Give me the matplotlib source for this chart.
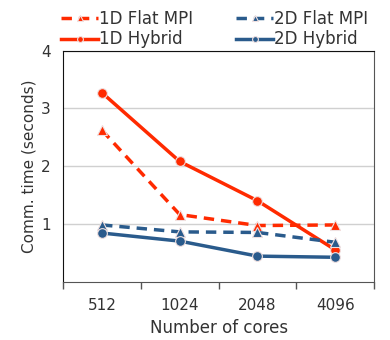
import matplotlib
matplotlib.use("Agg")
import matplotlib.pyplot as plt
import numpy as np

# data
cores = ["512", "1024", "2048", "4096"]
flat_1d = [2.62, 1.16, 0.97, 0.98]
hybrid_1d = [3.27, 2.08, 1.40, 0.55]
flat_2d = [0.98, 0.86, 0.85, 0.68]
hybrid_2d = [0.84, 0.70, 0.44, 0.42]

red = "#ff2a00"
blue = "#2a5b8c"
text_col = "#333333"

plt.rcParams['font.family'] = ['DejaVu Sans']
plt.rcParams['text.color'] = text_col
plt.rcParams['axes.labelcolor'] = text_col
plt.rcParams['xtick.labelcolor'] = text_col
plt.rcParams['ytick.labelcolor'] = text_col

fig = plt.figure(figsize=(3.9, 3.4), dpi=100)
ax = fig.add_axes([0.162, 0.172, 0.797, 0.679])

x = np.arange(len(cores))
style = dict(lw=2.5, ms=7, markeredgecolor="#f0e0e0", markeredgewidth=0.8)
l1, = ax.plot(x, flat_1d, color=red, ls=(0, (3, 2)), marker="^", label="1D Flat MPI", **style)
l2, = ax.plot(x, hybrid_1d, color=red, ls="-", marker="o", label="1D Hybrid", **style)
l3, = ax.plot(x, flat_2d, color=blue, ls=(0, (3, 2)), marker="^", label="2D Flat MPI", **style)
l4, = ax.plot(x, hybrid_2d, color=blue, ls="-", marker="o", label="2D Hybrid", **style)

ax.set_xlim(-0.5, 3.5)
ax.set_ylim(0, 4)
ax.set_yticks([1, 2, 3, 4])
ax.yaxis.grid(True, color="#d0d0d0", lw=1)
ax.set_axisbelow(True)
ax.tick_params(axis="y", length=0, labelsize=11, pad=9)

# category labels at centers, tick marks at the boundaries
ax.set_xticks(x)
ax.set_xticklabels(cores)
ax.set_xticks(np.arange(-0.5, 4.0, 1.0), minor=True)
ax.tick_params(axis="x", which="major", length=0, labelsize=11, pad=12)
ax.tick_params(axis="x", which="minor", length=5, width=1, color="#555555")

for side in ["left", "top"]:
    ax.spines[side].set_color("#111111")
for side in ["right", "bottom"]:
    ax.spines[side].set_color("#555555")

ax.set_xlabel("Number of cores", fontsize=12)
ax.set_ylabel("Comm. time (seconds)", fontsize=11, labelpad=3)

fig.legend(handles=[l1, l2, l3, l4], loc="upper center", ncol=2,
           bbox_to_anchor=(0.55, 1.015), frameon=False, fontsize=12,
           handlelength=2.2, handletextpad=0.05, columnspacing=2.6,
           labelspacing=0.15, markerscale=0.6)

fig.savefig("out.png", dpi=100)
